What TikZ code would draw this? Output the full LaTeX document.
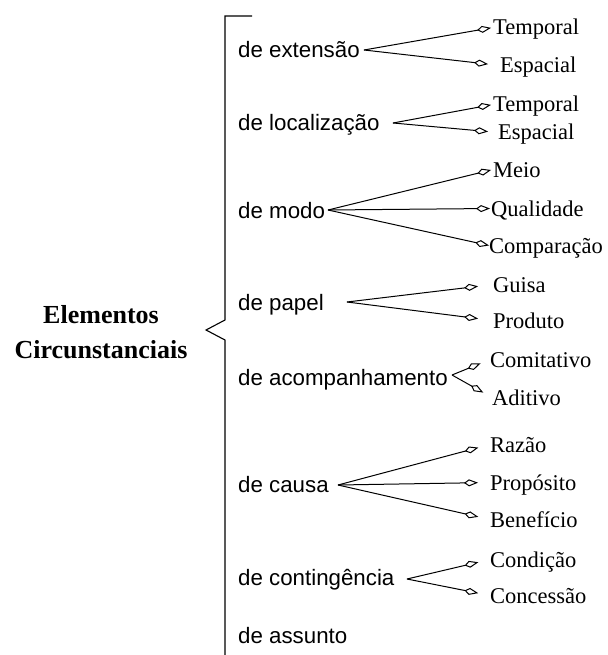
\documentclass[tikz,border=0pt]{standalone}
\usepackage{fontspec}
\setmainfont{Liberation Serif}
\setsansfont{Liberation Sans}
\usetikzlibrary{arrows.meta}
\tikzset{
    cat/.style={anchor=base west, inner sep=0pt, font=\sffamily\fontsize{22.3}{24}\selectfont},
    leaf/.style={anchor=base west, inner sep=0pt, text height=15pt, text depth=0pt, font=\fontsize{22.5}{24}\selectfont},
    link/.style={line width=1pt, -{Kite[open,length=14pt,width=7pt,inset=5pt]}},
}
\begin{document}
\begin{tikzpicture}[x=1pt,y=-1pt]
    \useasboundingbox (0,0) rectangle (607,655);
    \node[align=center, font=\bfseries\fontsize{26}{35}\selectfont] (root) at (101,332) {Elementos\\Circunstanciais};
    \draw[line width=1.1pt] (252,16) -- (225,16) -- (225,320) -- (206,330) -- (225,340) -- (225,655);
    % categorias
    \node[cat] (ext) at (238,58) {de extensão};
    \node[cat] (loc) at (238,131) {de localização};
    \node[cat] (modo) at (238,218) {de modo};
    \node[cat] (pap) at (238,310) {de papel};
    \node[cat] (acomp) at (238,385) {de acompanhamento};
    \node[cat] (causa) at (238,492) {de causa};
    \node[cat] (cont) at (238,585) {de contingência};
    \node[cat] (ass) at (238,643) {de assunto};
    % pontos de ramificacao
    \coordinate (ext-f) at (364,50);
    \coordinate (loc-f) at (393,123);
    \coordinate (modo-f) at (328,210);
    \coordinate (pap-f) at (347,302);
    \coordinate (acomp-f) at (452,375);
    \coordinate (causa-f) at (338,485);
    \coordinate (cont-f) at (407,579);
    % subtipos
    \node[leaf] (ext1) at (493,35) {Temporal};
    \node[leaf] (ext2) at (500,73) {Espacial};
    \node[leaf] (loc1) at (493,112) {Temporal};
    \node[leaf] (loc2) at (498,140) {Espacial};
    \node[leaf] (modo1) at (493,177) {Meio};
    \node[leaf] (modo2) at (491,216) {Qualidade};
    \node[leaf] (modo3) at (489,253) {Comparação};
    \node[leaf] (pap1) at (493,292) {Guisa};
    \node[leaf] (pap2) at (493,328) {Produto};
    \node[leaf] (acomp1) at (490,367) {Comitativo};
    \node[leaf] (acomp2) at (492,405) {Aditivo};
    \node[leaf] (causa1) at (490,452) {Razão};
    \node[leaf] (causa2) at (490,490) {Propósito};
    \node[leaf] (causa3) at (490,527) {Benefício};
    \node[leaf] (cont1) at (490,567) {Condição};
    \node[leaf] (cont2) at (490,603) {Concessão};
    % ligacoes
    \draw[link, shorten >=2pt] (ext-f) -- (ext1.west);
    \draw[link, shorten >=12pt] (ext-f) -- (ext2.west);
    \draw[link, shorten >=2pt] (loc-f) -- (loc1.west);
    \draw[link, shorten >=10pt] (loc-f) -- (loc2.west);
    \draw[link, shorten >=2pt] (modo-f) -- (modo1.west);
    \draw[link, shorten >=1pt] (modo-f) -- (modo2.west);
    \draw[link] (modo-f) -- (modo3.west);
    \draw[link, shorten >=15pt] (pap-f) -- (pap1.west);
    \draw[link, shorten >=15pt] (pap-f) -- (pap2.west);
    \draw[link, shorten >=10pt] (acomp-f) -- (acomp1.west);
    \draw[link, shorten >=10pt] (acomp-f) -- (acomp2.west);
    \draw[link, shorten >=12pt] (causa-f) -- (causa1.west);
    \draw[link, shorten >=12pt] (causa-f) -- (causa2.west);
    \draw[link, shorten >=12pt] (causa-f) -- (causa3.west);
    \draw[link, shorten >=12pt] (cont-f) -- (cont1.west);
    \draw[link, shorten >=12pt] (cont-f) -- (cont2.west);
\end{tikzpicture}
\end{document}
